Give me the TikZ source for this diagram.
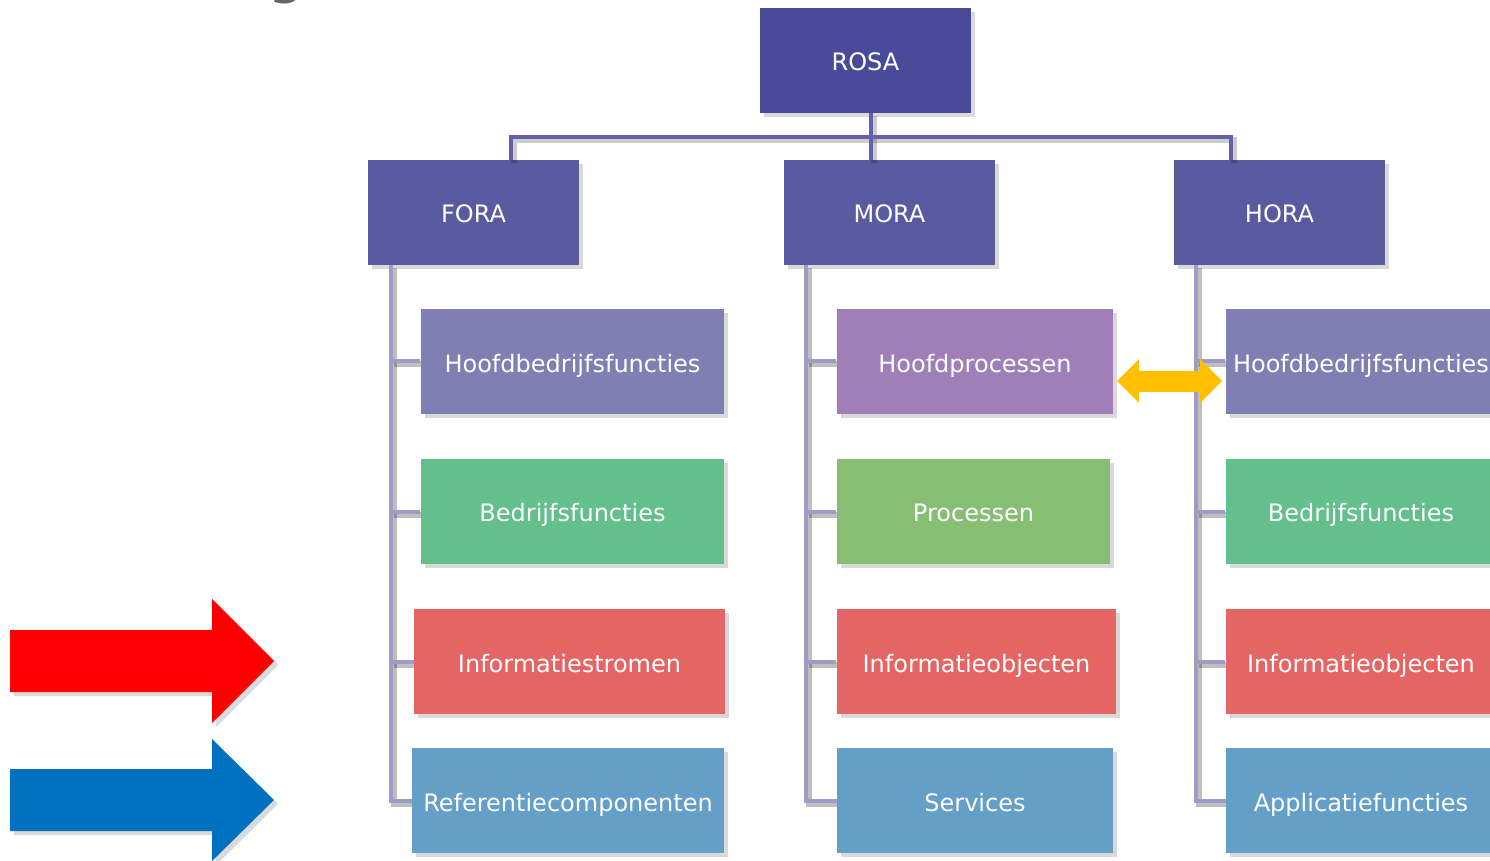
\documentclass[tikz,border=0pt]{standalone}
\usepackage{fontspec}
\setmainfont{DejaVu Sans}
\usetikzlibrary{positioning,calc,shadows}
\definecolor{rosakleur}{HTML}{4A4A9B}
\definecolor{kopkleur}{HTML}{5A5AA0}
\definecolor{takkleur}{HTML}{6262AA}
\definecolor{spinekleur}{HTML}{9C9CC4}
\definecolor{hoofdkleur}{HTML}{7F7FB3}
\definecolor{proceskleur}{HTML}{A07FB8}
\definecolor{groenkleur}{HTML}{63BF8B}
\definecolor{lichtgroen}{HTML}{86BF73}
\definecolor{roodkleur}{HTML}{E56464}
\definecolor{blauwkleur}{HTML}{649FC7}
\definecolor{geelkleur}{HTML}{FFC000}
\definecolor{pijlblauw}{HTML}{0070C0}
\tikzstyle{kop} = [rectangle, minimum width=105.5pt, minimum height=52.5pt, inner sep=0pt,
text centered, text height=12pt, text depth=1.5pt, fill=kopkleur, text=white,
drop shadow={opacity=0.3,shadow xshift=2pt,shadow yshift=-2pt}]
\tikzstyle{blok} = [rectangle, minimum height=52.5pt, inner sep=0pt, text centered, text=white,
text height=12pt, text depth=1.5pt, drop shadow={opacity=0.3,shadow xshift=2pt,shadow yshift=-2pt}]
\tikzstyle{tak} = [line width=2pt, draw=takkleur,
preaction={draw=black,opacity=0.2,line width=3pt,transform canvas={shift={(1.5pt,-1.5pt)}}}]
\tikzstyle{spine} = [line width=2pt, draw=spinekleur,
preaction={draw=black,opacity=0.25,line width=3pt,transform canvas={shift={(1.5pt,-1.5pt)}}}]
\tikzstyle{schaduw} = [drop shadow={opacity=0.3,shadow xshift=2pt,shadow yshift=-2pt}]

\begin{document}
\begin{tikzpicture}[x=0.5pt,y=-0.5pt,every node/.style={font=\fontsize{12}{14}\selectfont}]
				\useasboundingbox (0,0) rectangle (1490,861);
				\node[anchor=base,text=black!60,font=\fontsize{30}{30}\selectfont] (titelg) at (287,-8) {g};
				% kopblokken
				\node (rosa) at (865.5,60.5) [kop,fill=rosakleur] {ROSA};
				\node (fora) at (473.5,212.5) [kop] {FORA};
				\node (mora) at (889.5,212.5) [kop] {MORA};
				\node (hora) at (1279.5,212.5) [kop] {HORA};
				\coordinate (bus) at (871,137);
				\coordinate (fcol) at (391,0);
				\coordinate (mcol) at (806,0);
				\coordinate (hcol) at (1196,0);
				% lijnen
				\draw[tak] (rosa.south -| bus) -- (bus);
				\draw[tak] ($(fora.north)+(37.5,0)$) |- (bus) -| ($(hora.north)+(-48.5,0)$);
				\draw[tak] (bus) -- (bus |- mora.north);
				\draw[spine] (fora.south -| fcol) |- (568,800.5);
				\draw[spine] (mora.south -| mcol) |- (975,800.5);
				\draw[spine] (hora.south -| hcol) |- (1360,800.5);
				\foreach \y in {361.5,511.5,661.5} {
					\draw[spine] (fcol |- 0,\y) -- (420,\y);
					\draw[spine] (mcol |- 0,\y) -- (836,\y);
					\draw[spine] (hcol |- 0,\y) -- (1225,\y);
				}
				% FORA
				\node (f1) at (572.5,361.5) [blok,fill=hoofdkleur,minimum width=151.5pt] {Hoofdbedrijfsfuncties};
				\node (f2) at (572.5,511.5) [blok,fill=groenkleur,minimum width=151.5pt] {Bedrijfsfuncties};
				\node (f3) at (569.5,661.5) [blok,fill=roodkleur,minimum width=155.5pt] {Informatiestromen};
				\node (f4) at (568,800.5) [blok,fill=blauwkleur,minimum width=156pt] {Referentiecomponenten};
				% MORA
				\node (m1) at (975,361.5) [blok,fill=proceskleur,minimum width=138pt] {Hoofdprocessen};
				\node (m2) at (973.5,511.5) [blok,fill=lichtgroen,minimum width=136.5pt] {Processen};
				\node (m3) at (976.5,661.5) [blok,fill=roodkleur,minimum width=139.5pt] {Informatieobjecten};
				\node (m4) at (975,800.5) [blok,fill=blauwkleur,minimum width=138pt] {Services};
				% HORA
				\node (h1) at (1361,361.5) [blok,fill=hoofdkleur,minimum width=135pt] {Hoofdbedrijfsfuncties};
				\node (h2) at (1361,511.5) [blok,fill=groenkleur,minimum width=135pt] {Bedrijfsfuncties};
				\node (h3) at (1361,661.5) [blok,fill=roodkleur,minimum width=135pt] {Informatieobjecten};
				\node (h4) at (1361,800.5) [blok,fill=blauwkleur,minimum width=135pt] {Applicatiefuncties};
				% pijlen
				\fill[geelkleur] (1117,381) -- (1139,359) -- (1139,371) -- (1200,371) -- (1200,359) -- (1222,381)
					-- (1200,403) -- (1200,392) -- (1139,392) -- (1139,403) -- cycle;
				\fill[red,schaduw] (10,630) -- (212,630) -- (212,599) -- (274,661) -- (212,723) -- (212,692) -- (10,692) -- cycle;
				\fill[pijlblauw,schaduw] (10,769) -- (212,769) -- (212,739) -- (274,800) -- (212,861) -- (212,831) -- (10,831) -- cycle;
\end{tikzpicture}
\end{document}
